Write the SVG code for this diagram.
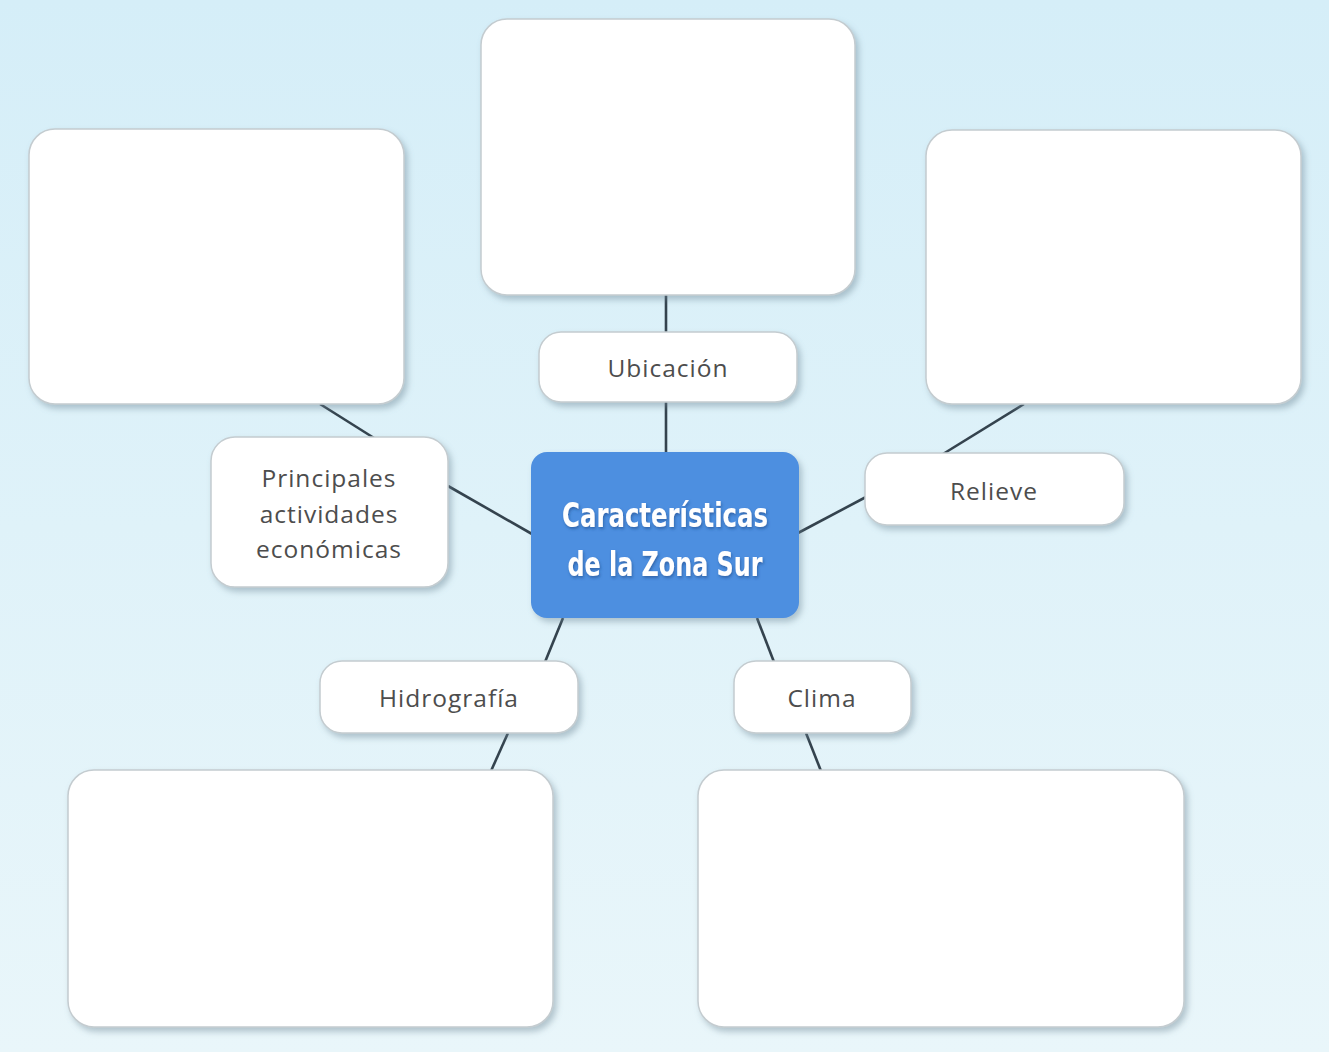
<svg xmlns="http://www.w3.org/2000/svg" width="1329" height="1052" viewBox="0 0 1329 1052">
<defs>
<linearGradient id="bg" x1="0" y1="0" x2="0" y2="1">
<stop offset="0" stop-color="#d5eef8"/>
<stop offset="1" stop-color="#e9f6fa"/>
</linearGradient>
<filter id="sh" x="-10%" y="-10%" width="125%" height="130%">
<feDropShadow dx="3" dy="4" stdDeviation="3" flood-color="#6a8494" flood-opacity="0.45"/>
</filter>
<filter id="tsh" x="-10%" y="-20%" width="120%" height="150%">
<feDropShadow dx="1" dy="2" stdDeviation="1.5" flood-color="#1e4d8a" flood-opacity="0.6"/>
</filter>
</defs>
<style>
.box{fill:#ffffff;stroke:#c4ccd0;stroke-width:1.5;filter:url(#sh)}
.lbl{font-family:"Open Sans","Noto Sans",sans-serif;font-size:24.5px;letter-spacing:1px;fill:#4d4d4d;text-anchor:middle}
.con line{stroke:#34434e;stroke-width:2.6}
.ctr{fill:#4d8fe0;filter:url(#sh)}
.ctxt{font-family:"DejaVu Sans Condensed","DejaVu Sans",sans-serif;font-weight:bold;font-size:33px;fill:#ffffff;text-anchor:middle;filter:url(#tsh)}
</style>
<rect x="0" y="0" width="1329" height="1052" fill="url(#bg)"/>
<g id="connectors" class="con">
<line x1="666" y1="295" x2="666" y2="333"/>
<line x1="666" y1="402" x2="666" y2="453"/>
<line x1="320" y1="404" x2="374" y2="438"/>
<line x1="448" y1="486" x2="532" y2="534"/>
<line x1="1024" y1="404" x2="943" y2="454"/>
<line x1="866" y1="497" x2="798" y2="533"/>
<line x1="563" y1="618" x2="545" y2="662"/>
<line x1="508" y1="733" x2="491" y2="771"/>
<line x1="757" y1="618" x2="774" y2="662"/>
<line x1="806" y1="733" x2="821" y2="771"/>
</g>
<g id="box-top"><rect class="box" x="481" y="19" width="374" height="276" rx="26"/></g>
<g id="box-top-left"><rect class="box" x="29" y="129" width="375" height="275" rx="26"/></g>
<g id="box-top-right"><rect class="box" x="926" y="130" width="375" height="274" rx="26"/></g>
<g id="box-bottom-left"><rect class="box" x="68" y="770" width="485" height="257" rx="26"/></g>
<g id="box-bottom-right"><rect class="box" x="698" y="770" width="486" height="257" rx="26"/></g>
<g id="ubicacion"><rect class="box" x="539" y="332" width="258" height="70" rx="22"/><text class="lbl" x="668" y="377">Ubicación</text></g>
<g id="principales"><rect class="box" x="211" y="437" width="237" height="150" rx="24"/>
<text class="lbl" x="329" y="487">Principales</text>
<text class="lbl" x="329" y="523">actividades</text>
<text class="lbl" x="329" y="558">económicas</text></g>
<g id="relieve"><rect class="box" x="865" y="453" width="259" height="72" rx="22"/><text class="lbl" x="994" y="500">Relieve</text></g>
<g id="hidrografia"><rect class="box" x="320" y="661" width="258" height="72" rx="22"/><text class="lbl" x="449" y="707">Hidrografía</text></g>
<g id="clima"><rect class="box" x="734" y="661" width="177" height="72" rx="22"/><text class="lbl" x="822" y="707">Clima</text></g>
<g id="center"><rect class="ctr" x="531" y="452" width="268" height="166" rx="16"/>
<text class="ctxt" x="665" y="527" textLength="206" lengthAdjust="spacingAndGlyphs">Características</text>
<text class="ctxt" x="665" y="576" textLength="195" lengthAdjust="spacingAndGlyphs">de la Zona Sur</text></g>
</svg>
